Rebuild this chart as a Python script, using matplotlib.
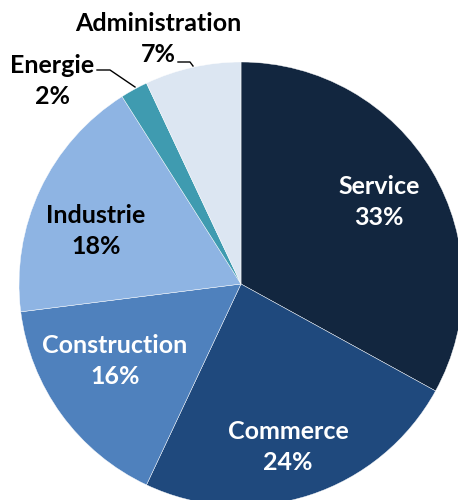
import matplotlib.pyplot as plt
import numpy as np

sectors = ['Service', 'Commerce', 'Construction', 'Industrie', 'Energie', 'Administration']
shares = [33, 24, 16, 18, 2, 7]
colors = ['#12263f', '#1f497d', '#4f81bd', '#8eb4e3', '#3f9bb0', '#dce6f2']
text_colors = ['white', 'white', 'white', 'black', 'black', 'black']

plt.rcParams['font.family'] = ['Lato', 'DejaVu Sans']

fig = plt.figure(figsize=(4.58, 5.0), dpi=100)
ax = fig.add_axes([0, 0, 1, 1])

cx, cy, R = 241, 500 - 284, 222
wedges, _ = ax.pie(shares, colors=colors, startangle=90, counterclock=False,
                   radius=R, center=(cx, cy), frame=True,
                   wedgeprops=dict(edgecolor='white', linewidth=0.3))
ax.set_xlim(0, 458)
ax.set_ylim(0, 500)
ax.axis('off')

FS = 18
LS = 1.45

# label spots (pixels from top-left) for the inside labels
inside = {
    'Service': (379, 202),
    'Commerce': (288, 447),
    'Construction': (115, 361),
    'Industrie': (96, 231),
}
for name, val, tc in zip(sectors, shares, text_colors):
    if name in inside:
        x, y = inside[name]
        ax.text(x, 500 - y, f'{name}\n{val}%', ha='center', va='center',
                color=tc, fontsize=FS, fontweight='bold', linespacing=LS)

# outside labels with leader lines
ax.text(52, 500 - 81, f'Energie\n{shares[4]}%', ha='center', va='center',
        fontsize=FS, fontweight='bold', linespacing=LS)
ax.plot([97, 110, 135], [500 - 70, 500 - 70, 500 - 87], color='black', lw=1)

ax.text(158, 500 - 39, f'Administration\n{shares[5]}%', ha='center', va='center',
        fontsize=FS, fontweight='bold', linespacing=LS)
ax.plot([178, 190, 193], [500 - 62, 500 - 62, 500 - 66], color='black', lw=1)

fig.savefig('out.png', dpi=100)
